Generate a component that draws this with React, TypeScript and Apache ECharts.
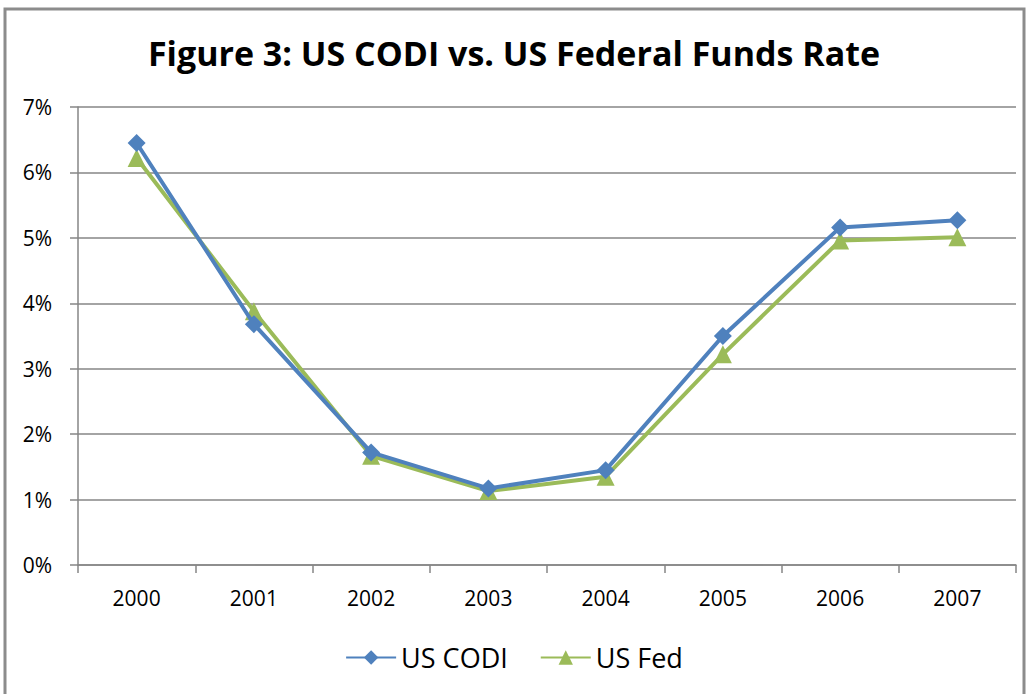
import React, { useEffect, useRef } from "react";
import * as echarts from "echarts";

const years = ["2000", "2001", "2002", "2003", "2004", "2005", "2006", "2007"];
const usCodi = [6.45, 3.68, 1.72, 1.17, 1.45, 3.5, 5.16, 5.27];
const usFed = [6.22, 3.88, 1.67, 1.13, 1.35, 3.22, 4.96, 5.01];
const yTicks = [0, 1, 2, 3, 4, 5, 6, 7];

export default function App() {
  const ref = useRef<HTMLDivElement>(null);
  useEffect(() => {
    if (!ref.current) return;
    const chart = echarts.init(ref.current, null, { renderer: "svg" });
    chart.setOption({
      animation: false,
      backgroundColor: "#ffffff",
      textStyle: { fontFamily: "'Open Sans', sans-serif" },
      title: {
        text: "Figure 3: US CODI vs. US Federal Funds Rate",
        left: "center",
        top: 31,
        textStyle: {
          fontSize: 34,
          fontWeight: "bold",
          color: "#000",
          fontFamily: "'Open Sans', sans-serif",
        },
      },
      graphic: [
        {
          type: "rect",
          shape: { x: 5, y: 9, width: 1019, height: 700 },
          style: { fill: "none", stroke: "#8c8c8c", lineWidth: 3 },
          silent: true,
        },
      ],
      legend: {
        bottom: 18,
        left: "center",
        itemWidth: 50,
        itemHeight: 18,
        itemGap: 32,
        textStyle: { fontSize: 27, color: "#000", fontFamily: "'Open Sans', sans-serif" },
        data: ["US CODI", "US Fed"],
      },
      grid: { left: 78, right: 12, top: 107, bottom: 129, containLabel: false },
      xAxis: {
        type: "category",
        data: years,
        boundaryGap: true,
        axisLine: { lineStyle: { color: "#868686", width: 1.5 } },
        axisTick: { show: true, length: 8, lineStyle: { color: "#868686", width: 1.5 } },
        axisLabel: { fontSize: 21, color: "#000", margin: 22, fontFamily: "'Open Sans', sans-serif" },
      },
      yAxis: {
        type: "value",
        min: 0,
        max: 7,
        interval: 1,
        axisLine: { show: true, lineStyle: { color: "#868686", width: 1.5 } },
        axisTick: { show: true, length: 8, lineStyle: { color: "#868686", width: 1.5 } },
        splitLine: { show: true, lineStyle: { color: "#868686", width: 1.5 } },
        axisLabel: {
          fontSize: 21,
          color: "#000",
          margin: 26,
          fontFamily: "'Open Sans', sans-serif",
          formatter: (v: number) => (yTicks.includes(v) ? v + "%" : ""),
        },
      },
      series: [
        {
          name: "US CODI",
          type: "line",
          data: usCodi,
          symbol: "diamond",
          symbolSize: 18,
          lineStyle: { color: "#4F81BD", width: 4 },
          itemStyle: { color: "#4F81BD" },
          z: 3,
        },
        {
          name: "US Fed",
          type: "line",
          data: usFed,
          symbol: "triangle",
          symbolSize: 18,
          lineStyle: { color: "#9BBB59", width: 4 },
          itemStyle: { color: "#9BBB59" },
          z: 2,
        },
      ],
    });
    return () => chart.dispose();
  }, []);
  return (
    <div
      ref={ref}
      style={{ position: "fixed", left: 0, top: 0, width: 1028, height: 694 }}
    />
  );
}
